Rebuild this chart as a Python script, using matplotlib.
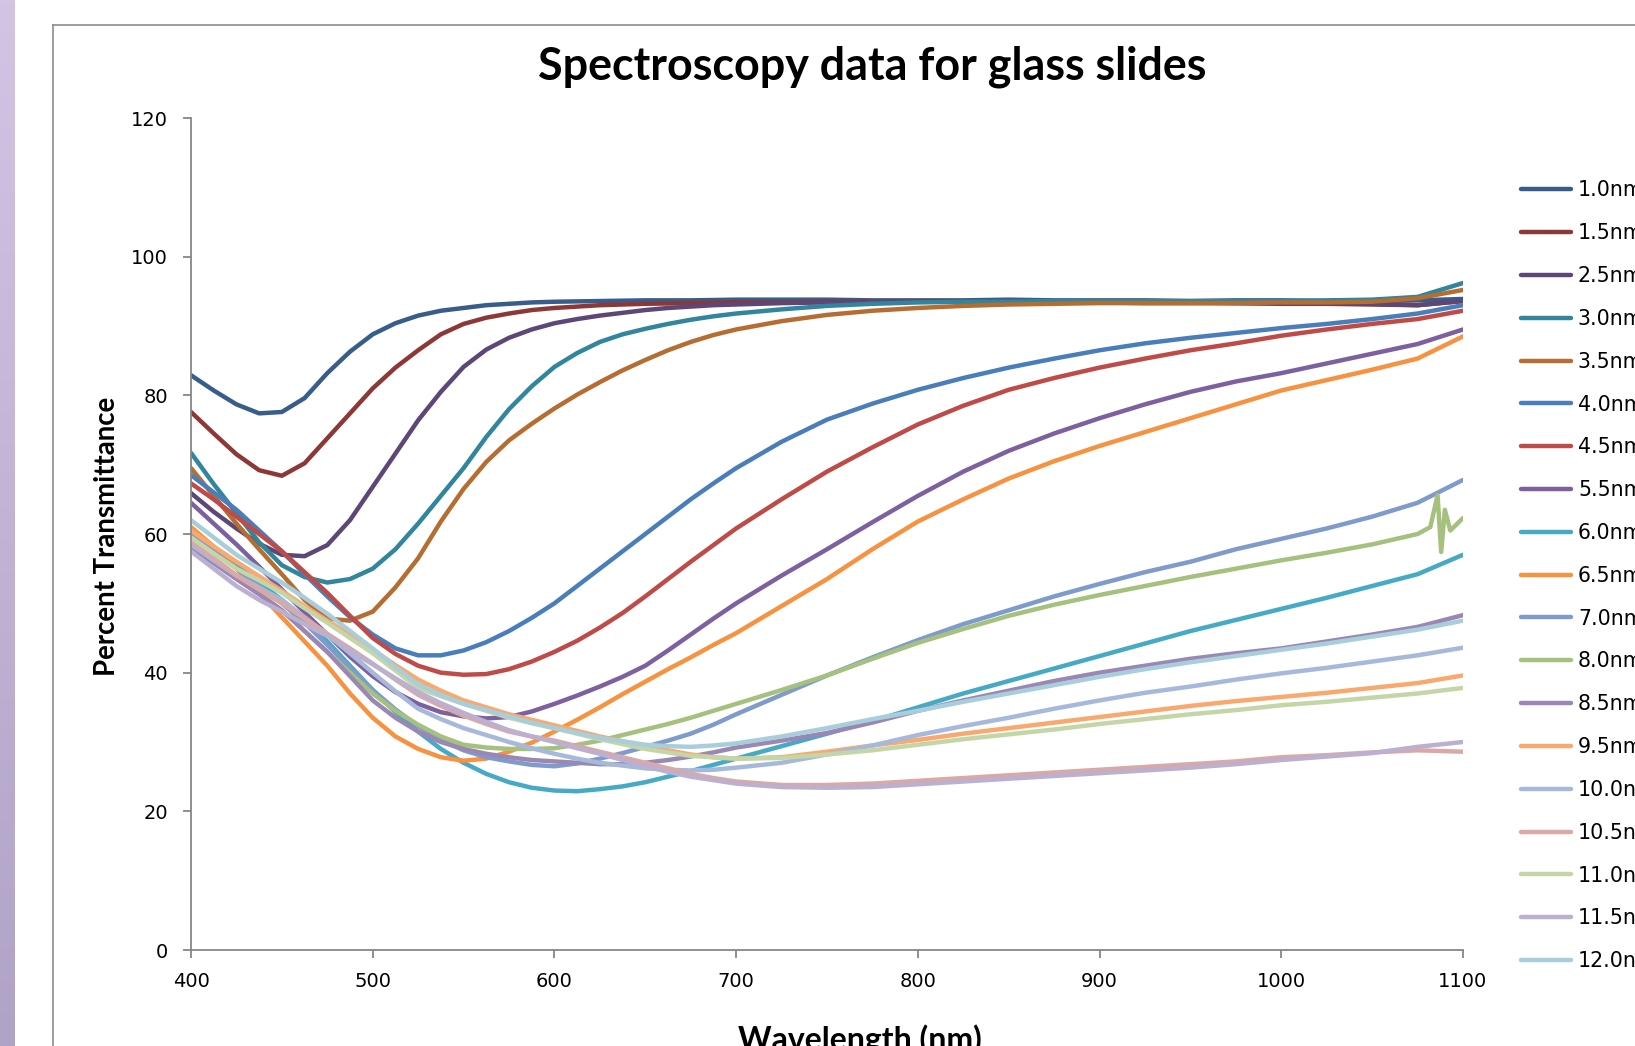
import numpy as np
import matplotlib
matplotlib.use("Agg")
import matplotlib.pyplot as plt
from matplotlib.lines import Line2D
from matplotlib.colors import LinearSegmentedColormap

# ── Data ───────────────────────────────────────────────────────────────────
WAVELENGTH = [400, 412.5, 425, 437.5, 450, 462.5, 475, 487.5, 500, 512.5, 525,
              537.5, 550, 562.5, 575, 587.5, 600, 612.5, 625, 637.5, 650, 662.5,
              675, 687.5, 700,
              725, 750, 775, 800, 825, 850, 875, 900, 925, 950, 975, 1000,
              1025, 1050, 1075, 1100]

T_1_0 = [82.9, 80.7, 78.7, 77.4, 77.6, 79.6, 83.2, 86.3, 88.8, 90.4, 91.5, 92.2, 92.6,
         93.0, 93.2, 93.4, 93.5, 93.55, 93.6, 93.65, 93.7, 93.7, 93.7, 93.75, 93.8,
         93.8, 93.8, 93.7, 93.7, 93.7, 93.8, 93.7, 93.7, 93.7, 93.6, 93.7, 93.7,
         93.6, 93.6, 93.7, 93.9]
T_1_5 = [77.6, 74.5, 71.5, 69.2, 68.4, 70.2, 73.8, 77.4, 81.0, 84.0, 86.5, 88.8, 90.3,
         91.2, 91.8, 92.3, 92.6, 92.8, 93.0, 93.1, 93.2, 93.25, 93.3, 93.35, 93.4,
         93.4, 93.5, 93.5, 93.5, 93.5, 93.4, 93.4, 93.4, 93.3, 93.3, 93.3, 93.2,
         93.2, 93.1, 93.0, 93.6]
T_2_5 = [65.9, 63.2, 60.8, 58.6, 57.0, 56.8, 58.4, 62.0, 66.8, 71.6, 76.4, 80.5, 84.1,
         86.6, 88.3, 89.5, 90.4, 91.0, 91.5, 91.9, 92.3, 92.6, 92.8, 93.0, 93.1,
         93.3, 93.4, 93.4, 93.5, 93.5, 93.5, 93.5, 93.4, 93.4, 93.4, 93.3, 93.3,
         93.3, 93.2, 93.0, 93.6]
T_3_0 = [71.7, 67.2, 63.0, 58.8, 55.5, 53.8, 53.0, 53.5, 55.0, 57.8, 61.5, 65.5, 69.5,
         74.0, 78.0, 81.3, 84.1, 86.1, 87.7, 88.8, 89.6, 90.3, 90.9, 91.4, 91.8,
         92.4, 92.9, 93.2, 93.4, 93.5, 93.5, 93.6, 93.6, 93.6, 93.6, 93.6, 93.6,
         93.7, 93.8, 94.2, 96.2]
T_3_5 = [69.5, 65.5, 61.5, 57.8, 54.2, 50.5, 47.8, 47.5, 48.8, 52.3, 56.5, 61.8, 66.5,
         70.4, 73.5, 75.9, 78.1, 80.1, 81.9, 83.6, 85.1, 86.5, 87.7, 88.7, 89.5,
         90.7, 91.6, 92.2, 92.6, 92.9, 93.1, 93.2, 93.3, 93.3, 93.3, 93.3, 93.4,
         93.4, 93.5, 94.0, 95.2]
T_4_0 = [68.5, 66.0, 63.5, 60.5, 57.5, 54.2, 51.0, 48.0, 45.5, 43.5, 42.5, 42.5, 43.2,
         44.4, 46.0, 47.9, 50.0, 52.5, 55.0, 57.5, 60.0, 62.5, 65.0, 67.3, 69.5,
         73.3, 76.5, 78.8, 80.8, 82.5, 84.0, 85.3, 86.5, 87.5, 88.3, 89.0, 89.7,
         90.3, 91.0, 91.8, 93.0]
T_4_5 = [67.3, 65.0, 62.5, 60.0, 57.5, 54.5, 51.5, 48.2, 45.0, 42.7, 41.0, 40.0, 39.7,
         39.8, 40.5, 41.6, 43.0, 44.6, 46.5, 48.6, 51.0, 53.5, 56.0, 58.4, 60.8,
         65.0, 69.0, 72.5, 75.8, 78.5, 80.8, 82.5, 84.0, 85.3, 86.5, 87.5, 88.6,
         89.5, 90.3, 91.0, 92.2]
T_5_5 = [64.5, 61.5, 58.5, 55.3, 52.0, 48.7, 45.5, 42.3, 39.5, 37.2, 35.5, 34.3, 33.7,
         33.4, 33.6, 34.4, 35.5, 36.7, 38.0, 39.4, 41.0, 43.2, 45.5, 47.8, 50.0,
         54.0, 57.8, 61.7, 65.5, 69.0, 72.0, 74.5, 76.7, 78.7, 80.5, 82.0, 83.2,
         84.6, 86.0, 87.4, 89.5]
T_6_0 = [60.5, 58.0, 55.5, 53.0, 50.5, 47.7, 44.5, 41.0, 37.5, 34.3, 31.5, 29.0, 27.0,
         25.4, 24.2, 23.4, 23.0, 22.9, 23.2, 23.6, 24.2, 25.0, 25.8, 26.7, 27.6,
         29.4, 31.2, 33.0, 35.0, 37.0, 38.8, 40.6, 42.4, 44.2, 46.0, 47.6, 49.2,
         50.8, 52.5, 54.2, 57.0]
T_6_5 = [61.0, 58.2, 55.0, 51.5, 48.0, 44.5, 41.0, 37.0, 33.5, 30.8, 29.0, 27.8, 27.3,
         27.6, 28.6, 29.9, 31.5, 33.2, 35.0, 36.9, 38.7, 40.5, 42.2, 44.0, 45.7,
         49.6, 53.5, 57.8, 61.8, 65.0, 68.0, 70.5, 72.7, 74.7, 76.7, 78.7, 80.7,
         82.2, 83.7, 85.3, 88.5]
T_7_0 = [60.0, 57.5, 55.0, 52.5, 50.0, 47.2, 44.0, 40.7, 37.5, 34.7, 32.3, 30.3, 28.8,
         27.8, 27.2, 26.7, 26.5, 26.9, 27.6, 28.4, 29.3, 30.2, 31.2, 32.5, 34.0,
         36.8, 39.6, 42.2, 44.7, 47.0, 49.0, 51.0, 52.8, 54.5, 56.0, 57.8, 59.3,
         60.8, 62.5, 64.5, 67.8]
T_8_0 = [59.0, 56.5, 54.0, 51.5, 49.0, 46.0, 43.0, 40.0, 37.0, 34.5, 32.5, 30.8, 29.6,
         29.2, 29.0, 29.0, 29.1, 29.6, 30.2, 31.0, 31.8, 32.6, 33.5, 34.5, 35.5,
         37.5, 39.6, 42.0, 44.3, 46.3, 48.2, 49.8, 51.2, 52.5, 53.8, 55.0, 56.2,
         57.3, 58.5, 60.0, 62.3]
T_8_5 = [58.0, 55.8, 53.5, 51.3, 49.0, 46.0, 43.0, 39.5, 36.0, 33.5, 31.5, 30.0, 29.0,
         28.3, 27.8, 27.4, 27.2, 27.0, 26.8, 26.8, 27.0, 27.4, 27.9, 28.5, 29.2,
         30.2, 31.3, 32.8, 34.5, 36.0, 37.4, 38.8, 40.0, 41.0, 42.0, 42.8, 43.5,
         44.5, 45.5, 46.6, 48.3]
T_9_5 = [60.5, 58.2, 56.0, 53.9, 51.8, 49.6, 47.5, 45.4, 43.3, 41.1, 39.0, 37.4, 36.0,
         35.0, 34.0, 33.2, 32.4, 31.6, 30.8, 30.1, 29.5, 28.8, 28.2, 27.8, 27.6,
         27.8, 28.6, 29.5, 30.3, 31.2, 32.0, 32.8, 33.6, 34.4, 35.2, 35.9, 36.5,
         37.1, 37.8, 38.5, 39.6]
T_10_0 = [58.5, 56.2, 54.0, 52.3, 50.5, 48.0, 45.5, 42.8, 40.0, 37.3, 34.8, 33.3, 32.0,
          31.0, 30.0, 29.1, 28.3, 27.6, 27.0, 26.6, 26.2, 26.0, 25.9, 26.0, 26.3,
          27.0, 28.2, 29.5, 31.0, 32.3, 33.5, 34.8, 36.0, 37.1, 38.0, 39.0, 39.9,
          40.7, 41.6, 42.5, 43.6]
T_10_5 = [59.0, 56.5, 54.0, 52.0, 50.0, 47.8, 45.6, 43.5, 41.3, 39.0, 36.8, 35.2, 33.8,
          32.6, 31.5, 30.8, 30.2, 29.4, 28.6, 27.8, 27.0, 26.2, 25.4, 24.8, 24.3,
          23.8, 23.8, 24.0, 24.4, 24.8, 25.2, 25.6, 26.0, 26.4, 26.8, 27.2, 27.8,
          28.1, 28.5, 28.8, 28.6]
T_11_0 = [59.5, 57.2, 55.0, 53.3, 51.5, 49.3, 47.2, 45.0, 42.8, 40.3, 37.8, 36.6, 35.5,
          34.5, 33.5, 32.7, 32.0, 31.2, 30.4, 29.7, 29.0, 28.5, 28.0, 27.8, 27.6,
          27.7, 28.2, 28.8, 29.6, 30.4, 31.1, 31.8, 32.6, 33.3, 34.0, 34.6, 35.3,
          35.8, 36.4, 37.0, 37.8]
T_11_5 = [57.5, 55.0, 52.5, 50.5, 48.8, 47.0, 45.3, 43.2, 41.2, 39.2, 37.2, 35.6, 34.2,
          32.9, 31.7, 30.8, 30.0, 29.1, 28.3, 27.4, 26.5, 25.7, 25.0, 24.5, 24.0,
          23.5, 23.4, 23.5, 23.9, 24.3, 24.7, 25.1, 25.5, 25.9, 26.3, 26.8, 27.4,
          27.9, 28.4, 29.3, 30.0]
T_12_0 = [62.0, 59.5, 57.0, 55.0, 53.0, 50.8, 48.5, 46.0, 43.5, 40.8, 38.3, 36.8, 35.5,
          34.6, 33.7, 32.8, 32.0, 31.3, 30.6, 30.1, 29.6, 29.4, 29.3, 29.5, 29.8,
          30.8, 32.0, 33.3, 34.5, 35.8, 37.0, 38.2, 39.4, 40.5, 41.5, 42.4, 43.3,
          44.2, 45.2, 46.2, 47.5]

# the 8.0nm trace has a noisy burst near the end
SPIKE_NM = [1082, 1086, 1088, 1090, 1093]
SPIKE_8_0 = [61.0, 65.6, 57.4, 63.5, 60.5]

LABELS = ["1.0nm", "1.5nm", "2.5nm", "3.0nm", "3.5nm", "4.0nm", "4.5nm", "5.5nm",
          "6.0nm", "6.5nm", "7.0nm", "8.0nm", "8.5nm", "9.5nm", "10.0nm", "10.5nm",
          "11.0nm", "11.5nm", "12.0nm"]
SERIES = [T_1_0, T_1_5, T_2_5, T_3_0, T_3_5, T_4_0, T_4_5, T_5_5, T_6_0, T_6_5,
          T_7_0, T_8_0, T_8_5, T_9_5, T_10_0, T_10_5, T_11_0, T_11_5, T_12_0]
COLORS = ["#385D8A", "#8C3836", "#5C4776", "#31859C", "#B66D31", "#4A7EBB",
          "#BE4B48", "#7D60A0", "#46AAC5", "#F69240", "#7E9BCC", "#A5C17D",
          "#9B87B4", "#F9A86E", "#A7B9DB", "#D9A8A7", "#C4D6A8", "#BBB0CF",
          "#A8CEDC"]

YTICKS = [0, 20, 40, 60, 80, 100, 120]
XTICKS = [400, 500, 600, 700, 800, 900, 1000, 1100]

# ── Figure ─────────────────────────────────────────────────────────────────
plt.rcParams["font.family"] = ["Lato", "DejaVu Sans"]
AXIS_GREY = "#868686"
W, H = 1635, 1046

fig = plt.figure(figsize=(W / 100, H / 100), dpi=100)

# slide strip on the far left
strip = fig.add_axes([0, 0, 14 / W, 1])
strip.imshow(np.linspace(0, 1, 256).reshape(-1, 1), aspect="auto",
             cmap=LinearSegmentedColormap.from_list("strip", ["#D3C4E4", "#B1A3C6"]),
             extent=[0, 1, 0, 1])
strip.axis("off")

# chart frame (only the top and left edges are inside the picture)
fig.add_artist(Line2D([53 / W, 53 / W], [0, 1 - 25 / H],
                      color="#8C8C8C", lw=1.2, transform=fig.transFigure))
fig.add_artist(Line2D([53 / W, 1], [1 - 25 / H, 1 - 25 / H],
                      color="#8C8C8C", lw=1.2, transform=fig.transFigure))

ax = fig.add_axes([191 / W, 1 - 950 / H, 1272 / W, 832 / H])

for vals, lab, col in zip(SERIES, LABELS, COLORS):
    xs, ys = list(WAVELENGTH), list(vals)
    if lab == "8.0nm":
        pts = sorted(zip(xs + SPIKE_NM, ys + SPIKE_8_0))
        xs, ys = [p[0] for p in pts], [p[1] for p in pts]
    ax.plot(xs, ys, color=col, lw=3.2, label=lab,
            solid_capstyle="round", solid_joinstyle="round")

ax.set_xlim(400, 1100)
ax.set_ylim(0, 120)
ax.set_xticks(XTICKS)
ax.set_yticks(YTICKS)
for side in ("top", "right"):
    ax.spines[side].set_visible(False)
for side in ("left", "bottom"):
    ax.spines[side].set_color(AXIS_GREY)
    ax.spines[side].set_linewidth(1.3)
ax.tick_params(axis="both", direction="out", length=6, width=1.3,
               color=AXIS_GREY, labelsize=14, labelcolor="black")
ax.tick_params(axis="y", pad=10.5)
ax.tick_params(axis="x", pad=10)
for lbl in ax.get_xticklabels() + ax.get_yticklabels():
    lbl.set_fontfamily("DejaVu Sans")

fig.text(872 / W, 1 - 67 / H, "Spectroscopy data for glass slides",
         ha="center", va="center", fontsize=32.3, fontweight="bold")
fig.text(107 / W, 1 - 536 / H, "Percent Transmittance", rotation=90,
         ha="center", va="center", fontsize=19.9, fontweight="bold")
fig.text(860 / W, 1 - 1024 / H, "Wavelength (nm)",
         ha="center", va="top", fontsize=23, fontweight="bold")

ax.legend(loc="upper left", bbox_to_anchor=(1521 / W, 1 - 180.5 / H),
          bbox_transform=fig.transFigure, frameon=False,
          prop={"family": "DejaVu Sans", "size": 14.8},
          handlelength=2.43, handletextpad=0.34, labelspacing=1.11,
          borderpad=0, borderaxespad=0)

fig.savefig("out.png", dpi=100)
